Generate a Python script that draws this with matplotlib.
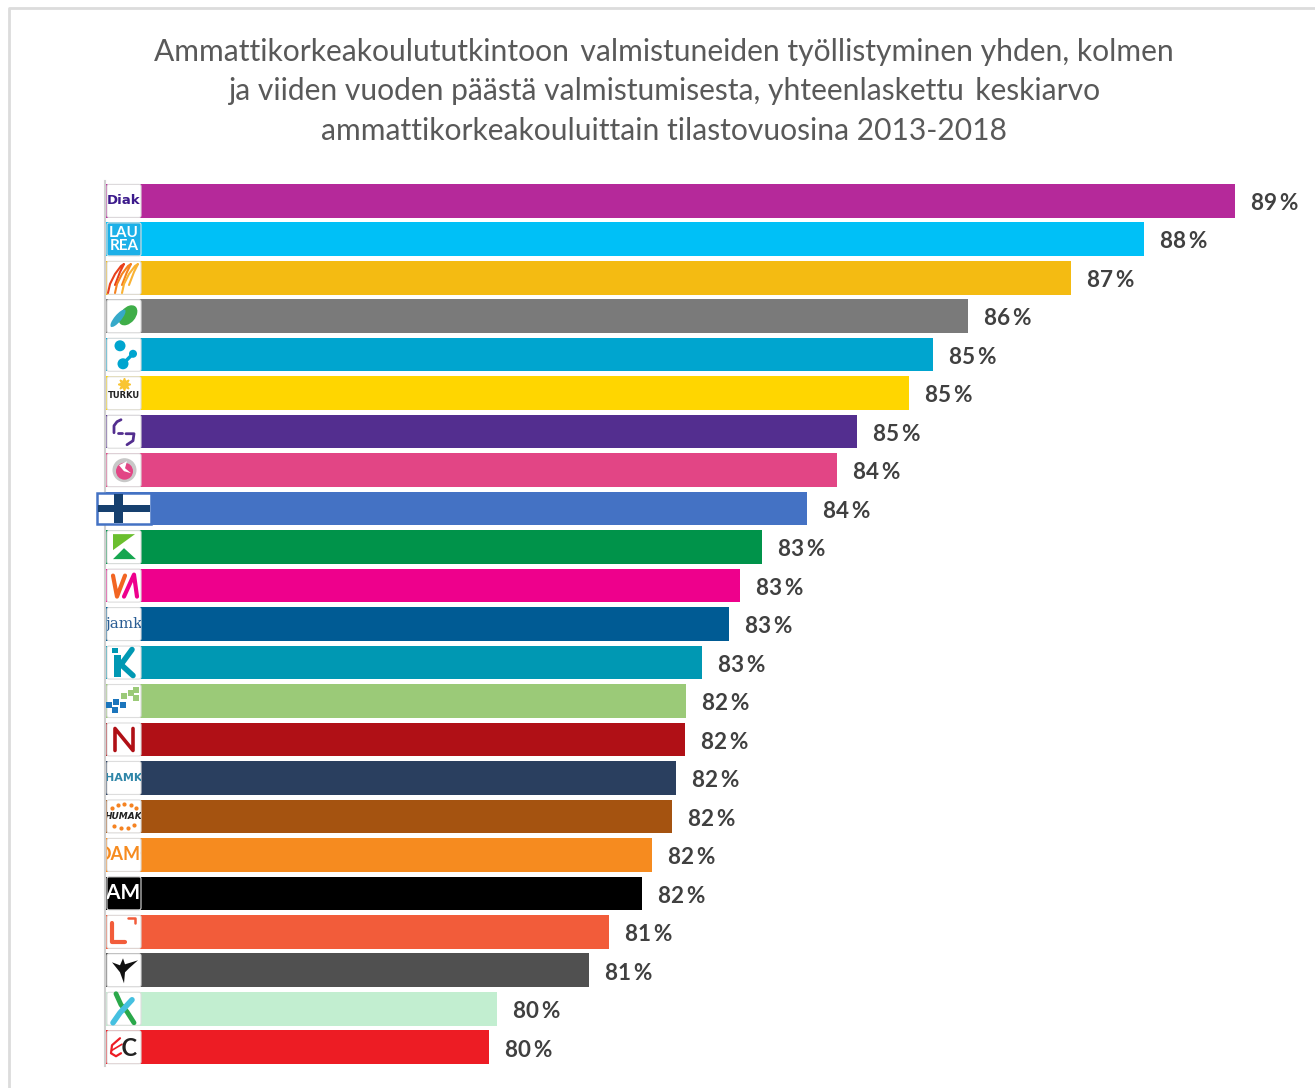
import matplotlib
matplotlib.use("Agg")
import matplotlib.pyplot as plt
from matplotlib.patches import Rectangle, FancyBboxPatch, Ellipse, Circle, Polygon

plt.rcParams['font.family'] = ['Lato', 'DejaVu Sans']

title_lines = ["Ammattikorkeakoulututkintoon \u2009valmistuneiden työllistyminen yhden, kolmen",
               "ja viiden vuoden päästä valmistumisesta, yhteenlaskettu \u2009keskiarvo",
               "ammattikorkeakouluittain tilastovuosina 2013-2018"]

schools = ["Diak", "Laurea", "Metropolia", "Savonia", "Centria", "Turku", "Satakunta", "Haaga-Helia",
           "Suomi", "Kaakkois", "Vaasa", "JAMK", "Kajaani", "Karelia", "Novia", "HAMK", "Humak",
           "OAMK", "XAMK", "Lahti", "Arcada", "Seinäjoki", "Centria2"]
values = [89.25, 88.11, 87.2, 85.91, 85.48, 85.18, 84.53, 84.28, 83.9, 83.34, 83.06, 82.93,
          82.59, 82.39, 82.38, 82.26, 82.21, 81.96, 81.84, 81.43, 81.18, 80.03, 79.93]
colors = ["#b5299a", "#00c0f7", "#f4bb12", "#7a7a7a", "#00a5cf", "#ffd600", "#532e8f", "#e24585",
          "#4472c4", "#00934a", "#ee008c", "#005b94", "#0098b3", "#9bca78", "#b01016", "#2a3f5f",
          "#a55310", "#f68b1f", "#000000", "#f25c3a", "#505050", "#c2eed0", "#ed1c24"]

W, H = 1315, 1088
fig = plt.figure(figsize=(W / 100, H / 100), dpi=100, facecolor="white")

# bars, value axis starts well above zero
ax = fig.add_axes([106 / W, 1 - 1066.5 / H, (W - 106) / W, 885 / H])
ax.barh(schools, values, height=0.875, color=colors)
ax.set_xlim(75.14, 75.14 + (W - 106) / 80)
ax.set_ylim(22.5, -0.5)
ax.axis("off")
for i, v in enumerate(values):
    ax.annotate(f"{v:.0f}\u2009%", (v, i), xytext=(11.6, -2), textcoords="offset points", va="center",
                fontsize=16.2, fontweight="bold", color="#404040")

# overlay in pixels for frame, title and the logos
ov = fig.add_axes([0, 0, 1, 1])
ov.set_xlim(0, W)
ov.set_ylim(H, 0)
ov.axis("off")
ov.patch.set_alpha(0)

ov.plot([9, 9, W], [H, 8, 8], color="#dcdcdc", lw=2)
ov.plot([105.5, 105.5], [181, 1066], color="#d0d0d0", lw=1.5)
for y, line_txt in zip([51.5, 91, 131], title_lines):
    ov.text(664, y, line_txt, ha="center", va="center", fontsize=21.65, color="#595959")


def box(cy, face="white"):
    ov.add_patch(FancyBboxPatch((107, cy - 16.5), 34, 33, boxstyle="round,pad=0,rounding_size=2",
                                fc=face, ec="#dddddd", lw=0.8, zorder=3))


def logo_text(cy, s, color, size, **kw):
    t = ov.text(124, cy, s, ha="center", va="center", color=color, fontsize=size, zorder=4, **kw)
    # text only clips to a rectangle
    t.set_clip_on(True)
    t.set_clip_path(Rectangle((107, cy - 16.5), 34, 33, transform=ov.transData))
    return t


def line(xs, ys, color, lw=2.0):
    ov.plot(xs, ys, color=color, lw=lw, zorder=4, solid_capstyle="round")


rows = [200.9 + 38.47 * i for i in range(23)]
for i, cy in enumerate(rows):
    if i != 8:
        box(cy, "#1cb0e8" if i == 1 else "black" if i == 18 else "white")

logo_text(rows[0], "Diak", "#3c1a8c", 9.5, family="DejaVu Sans", fontweight="bold")
logo_text(rows[1], "LAU\nREA", "white", 11, fontweight="bold", linespacing=0.95)
for dx, c in zip([0, 7, 14], ["#e8401c", "#f58220", "#f9b233"]):
    line([108 + dx, 110 + dx, 115 + dx, 121 + dx, 124 + dx, 120 + dx, 115 + dx],
         [293, 284, 274, 266, 264, 272, 285], c, 1.5)
ov.add_patch(Ellipse((128, rows[3] - 1), 15, 23, angle=40, fc="#3fae49", zorder=4))
ov.add_patch(Ellipse((118, rows[3] + 2), 7, 22, angle=40, fc="#36a9c9", zorder=4))
c4 = "#00a5cf"
for dx, dy, r in [(-4, -9, 5.5), (9, -1, 4), (-1, 9, 5.5)]:
    ov.add_patch(Circle((124 + dx, rows[4] + dy), r, fc=c4, zorder=4))
line([123, 133], [rows[4] + 9, rows[4] - 1], c4, 2.5)
logo_text(rows[5] + 2, "TURKU", "#222222", 6, family="DejaVu Sans", fontweight="bold")
ov.plot(124, rows[5] - 9, marker=(8, 1, 0), ms=9, color="#f9c532", zorder=4)
c6 = "#532e8f"
cy = rows[6]
line([114, 114, 117, 121], [cy + 1, cy - 6, cy - 10, cy - 12], c6)
line([118, 122], [cy + 1.5, cy + 1.5], c6)
line([126, 134, 133, 127], [cy + 2, cy + 2, cy + 9, cy + 13], c6)
cy = rows[7]
ov.add_patch(Circle((124.5, cy), 12, fc="#c8c8c8", zorder=4))
ov.add_patch(Circle((124.5, cy + 1), 8.5, fc="#e24585", zorder=4))
ov.add_patch(Polygon([(119, cy - 5), (127, cy - 9), (125, cy - 2), (131, cy + 3), (124, cy + 1)], fc="white", zorder=5))
ov.add_patch(Rectangle((97, rows[8] - 16), 54, 31, fc="white", ec="#4472c4", lw=1.8, zorder=3))
ov.add_patch(Rectangle((114, rows[8] - 15), 9, 29, fc="#16406f", zorder=4))
ov.add_patch(Rectangle((98, rows[8] - 4), 52, 7, fc="#16406f", zorder=4))
cy = rows[9]
ov.add_patch(Polygon([(113, cy - 13), (135, cy - 13), (113, cy + 3)], fc="#6abf2e", zorder=4))
ov.add_patch(Polygon([(113, cy + 12), (136, cy + 12), (124, cy + 1)], fc="#16a650", zorder=4))
cy = rows[10]
line([113, 117, 125], [cy - 10, cy + 11, cy - 10], "#f26522", 3)
line([124, 134, 137], [cy + 11, cy - 11, cy + 11], "#ee008c", 3)
logo_text(rows[11], "jamk", "#2a5d94", 11, family="DejaVu Serif")
cy = rows[12]
ov.add_patch(Rectangle((114, cy - 8), 7, 22, fc="#0098b3", zorder=4))
ov.add_patch(Rectangle((112, cy - 15), 6, 5, fc="#0098b3", zorder=4))
line([121, 132], [cy + 2, cy - 13], "#0098b3", 4)
line([121, 133], [cy + 2, cy + 13], "#0098b3", 4)
for dx, dy, c in [(-15, 4, "#1b75bc"), (-8, 1, "#1b75bc"), (-9, 9, "#1b75bc"), (-1, 4, "#1b75bc"),
                  (0, -5, "#9bca78"), (7, -8, "#9bca78"), (12, -11, "#9bca78"), (12, -3, "#9bca78")]:
    ov.add_patch(Rectangle((124 + dx - 3, rows[13] + dy - 3), 6, 6, fc=c, zorder=4))
cy = rows[14]
line([115, 115, 133, 133], [cy + 11, cy - 11, cy + 11, cy - 11], "#b01016", 2.6)
logo_text(rows[15], "HAMK", "#2f86a8", 8, family="DejaVu Sans", fontweight="bold")
logo_text(rows[16], "HUMAK", "#222222", 6.5, family="DejaVu Sans", fontweight="bold", fontstyle="italic")
ov.plot([112, 118, 124, 131, 136, 114, 121, 128, 134], [rows[16] + d for d in [-8, -11, -12, -11, -8, 10, 12, 12, 9]],
        ls="none", marker="o", ms=2, color="#f58220", zorder=4)
logo_text(rows[17], "OAMC", "#f68b1f", 13, fontweight="bold")
logo_text(rows[18], "XAMK", "white", 15, fontweight="bold")
cy = rows[19]
line([112, 112, 125], [cy - 9, cy + 10, cy + 10], "#f25c3a", 3)
line([128, 135, 135], [cy - 14, cy - 14, cy - 9], "#f25c3a", 1.8)
cy = rows[20]
ov.add_patch(Polygon([(112, cy - 8), (120, cy - 5), (123, cy - 12), (125, cy - 6), (138, cy - 10), (129, cy - 2),
                      (125, cy + 2), (124, cy + 13), (120, cy + 2)], fc="#111111", zorder=4))
cy = rows[21]
line([116, 121, 127, 134], [cy - 15, cy - 4, cy + 3, cy + 14], "#2aa84a", 3.5)
line([113, 120, 132], [cy + 14, cy + 4, cy - 9], "#45c0e0", 4)
cy = rows[22]
line([120, 112, 111, 116, 121], [cy - 9, cy - 2, cy + 6, cy + 9, cy + 6], "#ed1c24", 1.6)
line([112, 122], [cy + 3, cy - 3], "#ed1c24", 1.2)
logo_text(cy + 1, "  C", "#222222", 17, fontweight="bold")

fig.savefig("out.png", dpi=100)
